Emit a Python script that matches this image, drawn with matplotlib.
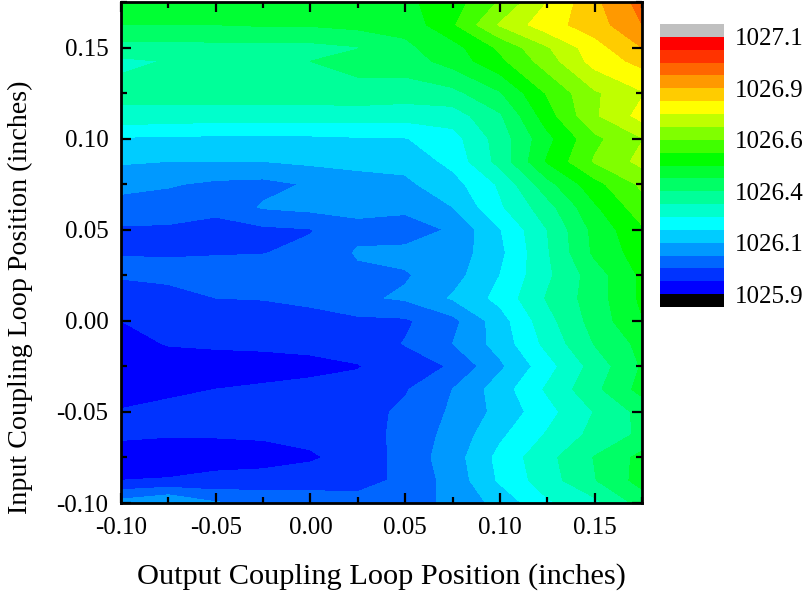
import numpy as np
import matplotlib
matplotlib.use("Agg")
import matplotlib.pyplot as plt
from matplotlib.colors import ListedColormap, BoundaryNorm
from matplotlib.ticker import MultipleLocator

plt.rcParams["font.family"] = ["Liberation Serif", "DejaVu Serif"]

x_pos = [-0.1, -0.075, -0.05, -0.025, 0.0, 0.025, 0.05, 0.075, 0.1, 0.125, 0.15, 0.175]
y_pos = [0.175, 0.1625, 0.15, 0.1425, 0.125, 0.1125, 0.1, 0.0875, 0.075, 0.0625, 0.05, 0.0375,
         0.025, 0.0125, 0.0, -0.0125, -0.025, -0.0375, -0.05, -0.0625, -0.075, -0.0875, -0.1]

# values, in colour bands above 1025.875
bands = [
    [9.5, 9.5, 9.5, 9.6, 9.7, 9.75, 9.8, 10.5, 12.1, 14.0, 15.75, 17.4],
    [9.0, 9.0, 9.0, 9.1, 9.1, 9.3, 9.3, 10.85, 13.1, 14.6, 15.5, 17.0],
    [7.6, 7.6, 7.7, 7.7, 7.7, 7.95, 8.8, 9.6, 11.2, 12.9, 14.6, 16.0],
    [6.8, 7.05, 7.2, 7.4, 8.0, 8.4, 8.5, 9.4, 10.75, 12.5, 14.4, 15.3],
    [7.3, 7.4, 7.5, 7.5, 7.5, 7.6, 7.5, 7.7, 8.9, 11.1, 12.85, 13.9],
    [6.7, 6.6, 6.5, 6.5, 6.5, 6.5, 6.4, 6.5, 7.85, 10.55, 12.85, 14.35],
    [4.9, 4.8, 4.8, 4.8, 4.8, 4.9, 4.95, 5.6, 7.45, 9.7, 11.75, 12.95],
    [4.1, 4.0, 4.0, 4.0, 4.2, 4.2, 4.3, 5.3, 7.35, 10.1, 12.1, 13.3],
    [3.4, 3.1, 2.8, 2.7, 3.1, 3.7, 3.8, 4.6, 6.15, 8.65, 10.65, 12.2],
    [2.5, 2.5, 2.2, 3.1, 3.3, 3.3, 3.3, 4.0, 5.85, 7.6, 9.85, 11.6],
    [1.9, 1.85, 1.75, 1.8, 1.95, 2.7, 2.4, 3.15, 4.95, 7.0, 9.3, 10.85],
    [1.98, 1.97, 1.95, 1.97, 2.2, 3.1, 3.3, 3.4, 4.75, 6.9, 9.2, 10.5],
    [2.1, 2.1, 2.3, 2.4, 2.6, 2.8, 2.9, 3.6, 5.0, 6.8, 8.5, 10.2],
    [1.5, 1.85, 2.0, 2.05, 2.2, 2.8, 3.15, 4.1, 5.3, 7.1, 8.5, 10.2],
    [1.0, 1.4, 1.4, 1.5, 1.7, 1.8, 1.85, 2.7, 4.55, 6.65, 8.4, 9.95],
    [0.7, 1.05, 1.1, 1.15, 1.2, 1.4, 2.05, 3.0, 4.4, 6.3, 8.05, 9.3],
    [0.6, 0.6, 0.7, 0.7, 0.8, 0.95, 1.5, 2.1, 3.8, 5.6, 7.4, 9.1],
    [0.7, 0.85, 1.0, 1.1, 1.2, 1.3, 1.9, 3.0, 4.5, 6.15, 7.75, 9.35],
    [1.05, 1.2, 1.3, 1.4, 1.5, 1.6, 2.2, 3.15, 4.3, 5.65, 7.05, 8.3],
    [1.1, 1.05, 1.05, 1.1, 1.2, 1.4, 2.4, 3.3, 4.8, 6.1, 7.3, 8.2],
    [0.7, 0.6, 0.7, 0.7, 0.9, 1.3, 2.4, 3.5, 5.3, 6.7, 8.05, 9.3],
    [1.0, 1.05, 1.2, 1.3, 1.4, 1.5, 2.3, 3.35, 5.15, 6.55, 7.95, 9.4],
    [3.4, 4.1, 3.1, 2.9, 2.7, 2.5, 2.4, 3.3, 4.3, 5.85, 6.7, 8.4],
]

band_colors = ["#0000ff", "#0033ff", "#0066ff", "#0099ff", "#00ccff",
               "#00ffff", "#00ffcc", "#00ff99", "#00ff66", "#00ff33",
               "#00ff00", "#40ff00", "#80ff00", "#bfff00", "#ffff00",
               "#ffcc00", "#ff9900", "#ff6600", "#ff3300", "#ff0000"]
levels = [1025.875 + 0.0625 * i for i in range(21)]
cbar_ticks = levels[::4]
cbar_labels = ["1025.9", "1026.1", "1026.4", "1026.6", "1026.9", "1027.1"]

z = 1025.875 + 0.0625 * np.array(bands)

W, H = 806, 595
fig = plt.figure(figsize=(W / 100, H / 100), dpi=100)
ax = fig.add_axes([121 / W, 1 - 503 / H, (642 - 121) / W, (503 - 2) / H])

cmap = ListedColormap(band_colors)
cmap.set_under("#000000")
cmap.set_over("#c0c0c0")
norm = BoundaryNorm(levels, cmap.N)

cs = ax.contourf(x_pos, y_pos, z, levels=levels, cmap=cmap, norm=norm, extend="both")

ax.set_xlim(-0.1, 0.175)
ax.set_ylim(-0.1, 0.175)
ax.set_xticks([-0.1, -0.05, 0, 0.05, 0.1, 0.15])
ax.set_yticks([-0.1, -0.05, 0, 0.05, 0.1, 0.15])
ax.set_xticklabels(["-0.10", "-0.05", "0.00", "0.05", "0.10", "0.15"])
ax.set_yticklabels(["-0.10", "-0.05", "0.00", "0.05", "0.10", "0.15"])
ax.xaxis.set_minor_locator(MultipleLocator(0.025))
ax.yaxis.set_minor_locator(MultipleLocator(0.025))
ax.tick_params(which="major", direction="in", top=True, right=True, length=7.5, width=1.6,
               labelsize=18)
ax.tick_params(axis="x", which="major", pad=10)
ax.tick_params(axis="y", which="major", pad=9)
ax.tick_params(which="minor", direction="in", top=True, right=True, length=4, width=1.6)
for s in ax.spines.values():
    s.set_linewidth(2)

fig.text(381 / W, 1 - 577 / H, "Output Coupling Loop Position (inches)", fontsize=21.9,
         ha="center", va="center")
fig.text(20 / W, 1 - 297 / H, "Input Coupling Loop Position (inches)", fontsize=20.2,
         rotation=90, ha="center", va="center")

cax = fig.add_axes([660 / W, 1 - 307 / H, 64 / W, (307 - 24) / H])
cbar = fig.colorbar(cs, cax=cax, extend="both", extendrect=True, extendfrac="auto",
                    spacing="uniform", drawedges=False)
cbar.set_ticks(cbar_ticks)
cbar.set_ticklabels(cbar_labels)
cbar.ax.minorticks_off()
cbar.ax.tick_params(length=0, labelsize=18, pad=8)
cbar.outline.set_visible(False)

fig.savefig("out.png", dpi=100)
